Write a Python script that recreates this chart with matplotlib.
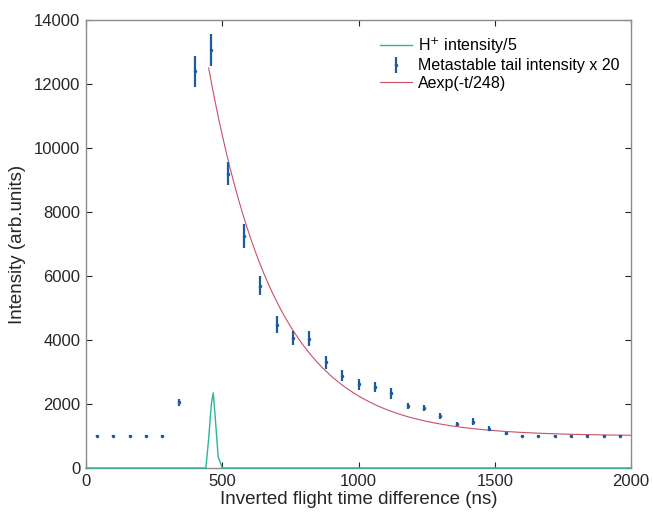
import matplotlib
matplotlib.use('Agg')
import matplotlib.pyplot as plt
import numpy as np

plt.rcParams['font.family'] = ['Liberation Sans', 'DejaVu Sans']

# metastable tail intensity x 20 (with error bars)
t_meta = [40, 100, 160, 220, 280, 340, 400, 460, 520, 580, 640, 700, 760, 820,
          880, 940, 1000, 1060, 1120, 1180, 1240, 1300, 1360, 1420, 1480, 1540,
          1600, 1660, 1720, 1780, 1840, 1900, 1960]
i_meta = [1000, 1000, 1000, 1000, 1000, 2050, 12400, 13050, 9200, 7250, 5700,
          4480, 4050, 4040, 3300, 2890, 2620, 2540, 2330, 1930, 1880, 1620,
          1380, 1450, 1230, 1080, 990, 990, 990, 990, 990, 990, 990]
e_meta = [20, 20, 20, 20, 20, 100, 480, 500, 370, 380, 290, 260, 220, 230,
          210, 170, 170, 150, 160, 100, 100, 100, 70, 100, 70, 50, 30, 30, 30,
          30, 30, 30, 30]

# H+ intensity / 5
t_h = [0, 440, 450, 460, 467, 475, 485, 491, 500, 2000]
i_h = [0, 0, 900, 2000, 2350, 1500, 350, 220, 0, 0]

# fit: offset + A*exp(-t/tau)
fit_A = 70600
fit_tau = 248
fit_offset = 1000
fit_t0, fit_t1 = 450, 2000

fig = plt.figure(figsize=(6.53, 5.18), dpi=100)
ax = fig.add_axes([86 / 653, 1 - 468 / 518, 545 / 653, 448 / 518])

h1, = ax.plot(t_h, i_h, color='#2ab59c', lw=1.0, label='H$^{+}$ intensity/5',
              zorder=3, clip_on=False)
h2 = ax.errorbar(t_meta, i_meta, yerr=e_meta, fmt='.', color='#1b5b9e', ms=3,
                 elinewidth=1.6, capsize=0, label='Metastable tail intensity x 20', zorder=4)
tt = np.linspace(fit_t0, fit_t1, 400)
h3, = ax.plot(tt, fit_offset + fit_A * np.exp(-tt / fit_tau), color='#c8506a', lw=0.8,
              label='Aexp(-t/248)', zorder=2)

ax.set_xlim(0, 2000)
ax.set_ylim(0, 14000)
ax.set_xticks([0, 500, 1000, 1500, 2000])
ax.set_yticks(range(0, 14001, 2000))
ax.tick_params(direction='in', top=True, right=True, labelsize=12, colors='#262626',
               length=4, width=0.8, pad=4)
for s in ax.spines.values():
    s.set_color('#8c8c8c')
    s.set_linewidth(1.0)
ax.set_xlabel('Inverted flight time difference (ns)', fontsize=13.5, color='#262626', labelpad=2)
ax.set_ylabel('Intensity (arb.units)', fontsize=13.5, color='#262626', labelpad=6)

leg = ax.legend(handles=[h1, h2, h3], loc='upper right', bbox_to_anchor=(1.0, 0.99),
                frameon=False, fontsize=11.5, handlelength=2.0, handletextpad=0.4,
                labelspacing=0.15, borderaxespad=0.3)

plt.savefig('out.png', dpi=100)
